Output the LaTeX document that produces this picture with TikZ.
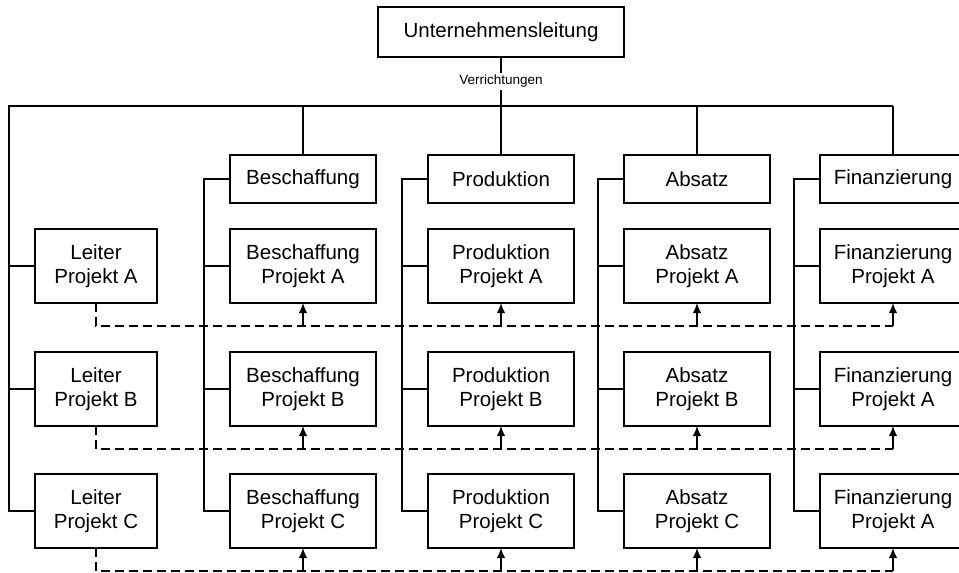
\documentclass[tikz,border=0pt]{standalone}
\usepackage{fontspec}
\setmainfont{Liberation Sans}
\usetikzlibrary{arrows.meta}

\begin{document}
\begin{tikzpicture}[x=1pt,y=-1pt,
  every node/.style={inner sep=0pt, outer sep=0pt},
  box/.style={draw, line width=1.3pt, fill=white, align=center,
    font=\fontsize{20.5}{24}\selectfont},
  headbox/.style={box, minimum width=146pt, minimum height=48pt},
  projbox/.style={box, minimum width=146pt, minimum height=74pt},
  leadbox/.style={box, minimum width=122pt, minimum height=74pt},
  tree/.style={line width=1.3pt},
  spine/.style={line width=1.9pt},
  linkline/.style={line width=2pt, dash pattern=on 9pt off 5pt},
  uparrow/.style={line width=1.5pt, -{Latex[length=10pt,width=8.5pt]}},
  tag/.style={fill=white, inner sep=2pt, font=\fontsize{13.5}{15}\selectfont}]

\useasboundingbox (0,0) rectangle (959,573);

% management and the bus below it
\node[box, minimum width=246pt, minimum height=50pt] (top) at (501,32) {Unternehmensleitung};
\coordinate (busL) at (9,106);

% project leaders
\node[leadbox] (L1) at (96,266) {Leiter\\Projekt A};
\node[leadbox] (L2) at (96,389) {Leiter\\Projekt B};
\node[leadbox] (L3) at (96,511) {Leiter\\Projekt C};

% functional columns with their project boxes
\foreach \n/\x/\t/\pa/\pb/\pc in {
    B/303/Beschaffung/A/B/C,
    P/501/Produktion/A/B/C,
    A/697/Absatz/A/B/C,
    F/893/Finanzierung/A/A/A} {
  \node[headbox] (h\n) at (\x,179) {\t};
  \node[projbox] (\n1) at (\x,266) {\t\\Projekt \pa};
  \node[projbox] (\n2) at (\x,389) {\t\\Projekt \pb};
  \node[projbox] (\n3) at (\x,511) {\t\\Projekt \pc};
  % drop from the bus
  \draw[tree] (h\n.north |- busL) -- (h\n.north);
  % bracket joining header and project boxes
  \coordinate (s\n) at ([xshift=-26pt]h\n.west);
  \draw[spine] (h\n.west) -- (s\n) -- (s\n |- \n3.west) -- (\n3.west);
  \draw[spine] (s\n |- \n1.west) -- (\n1.west);
  \draw[spine] (s\n |- \n2.west) -- (\n2.west);
}

% bus and the line from the top
\draw[tree] (top.south) -- node[tag] {Verrichtungen} (top.south |- busL);
\draw[tree] (hF.north |- busL) -- (busL) -- (busL |- L3.west) -- (L3.west);
\draw[tree] (busL |- L1.west) -- (L1.west);
\draw[tree] (busL |- L2.west) -- (L2.west);

% project links from the leaders to the functional boxes
\foreach \r in {1,2,3} {
  \coordinate (d\r) at ([yshift=-23pt]L\r.south);
  \draw[linkline] (L\r.south) -- (d\r) -- (d\r -| F\r.south);
  \foreach \n in {B,P,A,F}
    \draw[uparrow] (d\r -| \n\r.south) -- (\n\r.south);
}
\end{tikzpicture}
\end{document}
